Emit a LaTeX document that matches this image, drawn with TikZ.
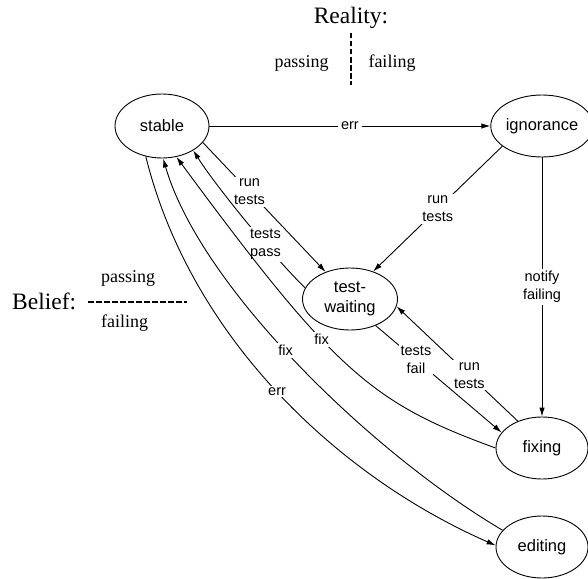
\documentclass[tikz,border=0pt]{standalone}
\usepackage{fontspec}
\setmainfont{Liberation Serif}
\setsansfont{Liberation Sans}
\usetikzlibrary{arrows.meta,shapes.geometric}

\tikzset{
  state/.style={draw, ellipse, line width=0.9pt, minimum width=92pt, minimum height=62pt,
                inner sep=0pt, font=\sffamily\fontsize{16.5}{20}\selectfont, align=center},
  edge/.style={line width=0.9pt, -{Latex[length=9pt,width=5.5pt]}},
  lbl/.style={fill=white, inner sep=2pt, font=\sffamily\fontsize{14.5}{18}\selectfont, align=center},
  note/.style={inner sep=0pt, font=\fontsize{18}{20}\selectfont},
  heading/.style={inner sep=0pt, font=\fontsize{23.5}{25}\selectfont},
  keyline/.style={line width=1.8pt, dash pattern=on 5.5pt off 2.5pt},
}

\begin{document}
\begin{tikzpicture}[x=1pt,y=-1pt]
\useasboundingbox (0,0) rectangle (588,578);

% Reality key
\node[heading] (reality) at (351,18) {Reality:};
\coordinate (rtop) at (351,33);
\coordinate (rbot) at (351,85);
\draw[keyline] (rtop) -- (rbot);
\node[note] (rpass) at (301.5,63) {passing};
\node[note] (rfail) at (392,63) {failing};

% Belief key
\node[heading, anchor=west] (belief) at (12,301.5) {Belief:};
\coordinate (bl) at (88,302);
\coordinate (br) at (187,302);
\draw[keyline] (bl) -- (br);
\node[note, anchor=west] (bpass) at (101,278) {passing};
\node[note, anchor=west] (bfail) at (101,323) {failing};

% States
\node[state, minimum width=94pt, minimum height=64pt] (stable) at (162,126) {stable};
\node[state] (ignorance) at (542,126) {ignorance};
\node[state, minimum width=95pt] (tw) at (350,299) {test-\\waiting};
\node[state] (fixing) at (542,448) {fixing};
\node[state] (editing) at (542,547) {editing};

% Transitions
\draw[edge] (stable) -- node[lbl, inner sep=3pt] {err} (ignorance);
\draw[edge] (stable.-22) -- node[lbl, pos=0.38] {run\\tests} (tw.132);
\draw[edge] (ignorance.-153) -- node[lbl, pos=0.5] {run\\tests} (tw.50);
\draw[edge] (ignorance) -- node[lbl] {notify\\failing} (fixing);
\draw[edge] (tw.166) .. controls (275,259) and (215,185) .. node[lbl, pos=0.35] {tests\\pass} (stable.-38);
\draw[edge] (tw.-46) -- node[lbl, pos=0.32] {tests\\fail} (fixing.159);
\draw[edge] (fixing.132) -- node[lbl, pos=0.4] {run\\tests} (tw.-9);
\draw[edge] (fixing.180) .. controls (372,403) and (335,372) .. node[lbl, pos=0.6] {fix} (stable.-65);
\draw[edge] (editing.157) .. controls (370,452) and (200,286) .. node[lbl, pos=0.53] {fix} (stable.-88);
\draw[edge] (stable.-118) .. controls (190,335) and (335,475) .. node[lbl, pos=0.5] {err} (editing.178);
\end{tikzpicture}
\end{document}
